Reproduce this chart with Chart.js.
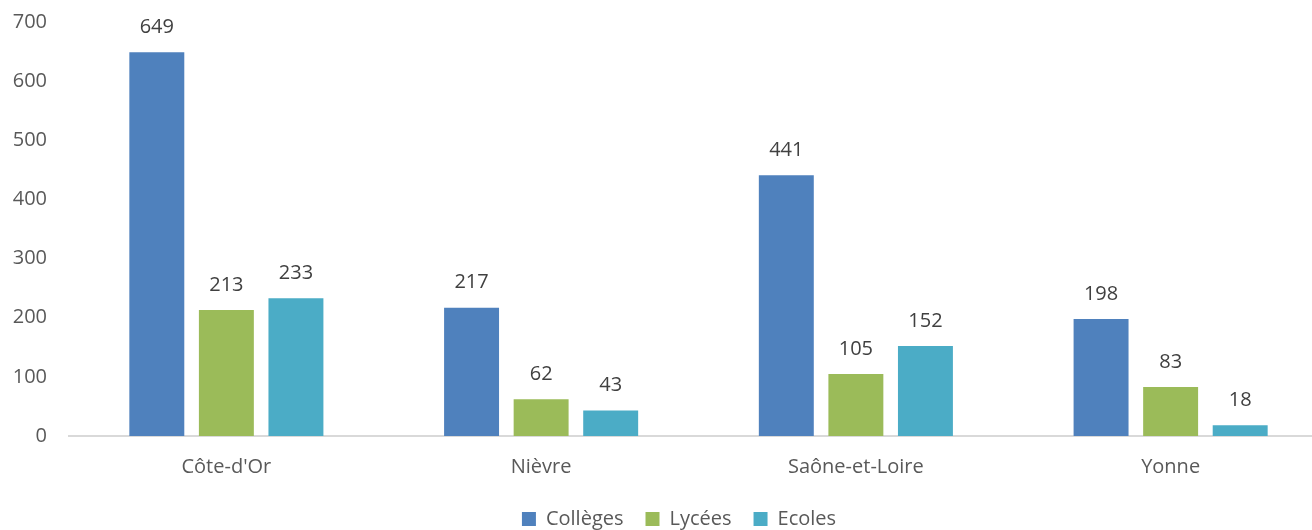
<!DOCTYPE html>
<html>
<head>
<meta charset="utf-8">
<script src="https://cdn.jsdelivr.net/npm/chart.js@4"></script>
<style>
  html, body { margin: 0; padding: 0; background: #fff; overflow: hidden; }
  #wrap { width: 1328px; height: 530px; }
</style>
</head>
<body>
<div id="wrap"><canvas id="chart"></canvas></div>
<script>
const departements = ["Côte-d'Or", 'Nièvre', 'Saône-et-Loire', 'Yonne'];
const colleges = [649, 217, 441, 198];
const lycees = [213, 62, 105, 83];
const ecoles = [233, 43, 152, 18];

const FONT = "'Open Sans', 'Noto Sans', sans-serif";

// draws the value above each bar
const barValues = {
  id: 'barValues',
  afterDatasetsDraw(chart) {
    const ctx = chart.ctx;
    ctx.save();
    ctx.font = '20px ' + FONT;
    ctx.fillStyle = '#404040';
    ctx.textAlign = 'center';
    ctx.textBaseline = 'middle';
    chart.data.datasets.forEach((ds, i) => {
      chart.getDatasetMeta(i).data.forEach((bar, j) => {
        ctx.fillText(ds.data[j], bar.x, bar.y - 25);
      });
    });
    ctx.restore();
  }
};

// legend sits a bit right of centre in the original
const legendShift = {
  id: 'legendShift',
  afterLayout(chart) {
    chart.legend.left += 15;
    chart.legend.right += 15;
  }
};

const ctx = document.getElementById('chart').getContext('2d');
new Chart(ctx, {
  type: 'bar',
  data: {
    labels: departements,
    datasets: [
      { label: 'Collèges', data: colleges, backgroundColor: '#4F81BD' },
      { label: 'Lycées', data: lycees, backgroundColor: '#9BBB59' },
      { label: 'Ecoles', data: ecoles, backgroundColor: '#4BACC6' }
    ]
  },
  options: {
    responsive: true,
    maintainAspectRatio: false,
    animation: false,
    barPercentage: 0.79,
    categoryPercentage: 0.663,
    layout: { padding: { top: 0, right: 0, bottom: -9, left: 0 } },
    plugins: {
      tooltip: { enabled: false },
      legend: {
        position: 'bottom',
        labels: {
          font: { family: FONT, size: 20 },
          color: '#595959',
          boxWidth: 14,
          boxHeight: 14,
          padding: 22
        }
      }
    },
    scales: {
      x: {
        grid: { display: false, drawTicks: false },
        border: { color: '#d9d9d9', width: 2 },
        ticks: { font: { family: FONT, size: 20 }, color: '#595959', padding: 19 },
        afterFit(scale) { scale.height -= 11; }
      },
      y: {
        min: 0,
        max: 700,
        grid: { display: false, drawTicks: false },
        border: { display: false },
        ticks: { stepSize: 100, font: { family: FONT, size: 20 }, color: '#595959', padding: 22 },
        afterFit(scale) {
          scale.width = 69;
          scale.paddingTop = 22;
          scale.paddingBottom = 0;
        }
      }
    }
  },
  plugins: [barValues, legendShift]
});
</script>
</body>
</html>
